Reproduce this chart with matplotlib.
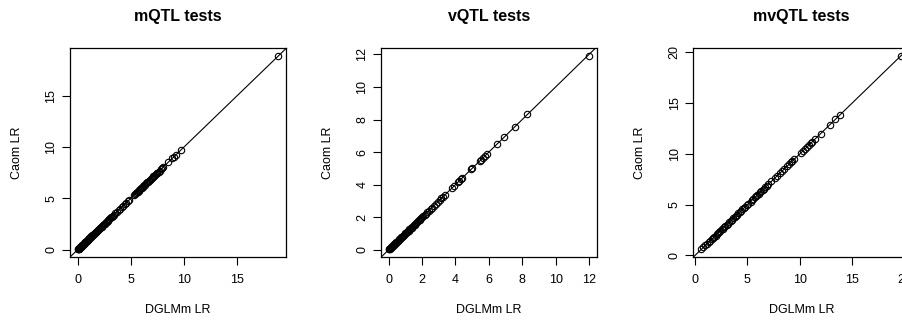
import matplotlib
matplotlib.use("Agg")
import matplotlib.pyplot as plt

plt.rcParams['font.family'] = ['Liberation Sans', 'DejaVu Sans']

titles = ["mQTL tests", "vQTL tests", "mvQTL tests"]
xlabel = "DGLMm LR"
ylabel = "Caom LR"

mqtl_x = [0.02, 0.05, 0.08, 0.11, 0.14, 0.17, 0.20, 0.23, 0.26, 0.30, 0.33, 0.36, 0.40, 0.43, 0.47,
          0.50, 0.54, 0.58, 0.61, 0.65, 0.69, 0.72, 0.76, 0.80, 0.84, 0.88, 0.92, 0.96, 1.00, 1.05,
          1.10, 1.14, 1.19, 1.24, 1.28, 1.33, 1.38, 1.43, 1.48, 1.53, 1.59, 1.64, 1.70, 1.75, 1.81,
          1.87, 1.93, 1.99, 2.05, 2.12, 2.18, 2.25, 2.32, 2.40, 2.47, 2.55, 2.63, 2.72, 2.80, 2.88,
          2.97, 3.05, 3.14, 3.22, 3.30, 3.42, 3.55, 3.70, 3.85, 3.98, 4.12, 4.25, 4.40, 4.55, 4.72,
          4.85, 5.30, 5.42, 5.50, 5.58, 5.65, 5.72, 5.80, 5.88, 5.95, 6.02, 6.10, 6.18, 6.25, 6.35,
          6.45, 6.55, 6.62, 6.70, 6.78, 6.85, 6.95, 7.05, 7.12, 7.20, 7.28, 7.35, 7.42, 7.50, 7.60,
          7.70, 7.80, 7.92, 8.05, 8.50, 8.90, 9.05, 9.20, 9.70, 18.85]
mqtl_y = [0.03, 0.04, 0.09, 0.10, 0.15, 0.16, 0.21, 0.22, 0.27, 0.29, 0.34, 0.35, 0.41, 0.42, 0.48,
          0.49, 0.55, 0.57, 0.62, 0.64, 0.70, 0.71, 0.77, 0.79, 0.85, 0.87, 0.93, 0.95, 1.01, 1.04,
          1.11, 1.13, 1.20, 1.23, 1.29, 1.32, 1.39, 1.42, 1.49, 1.52, 1.60, 1.63, 1.71, 1.74, 1.82,
          1.86, 1.94, 1.98, 2.06, 2.11, 2.19, 2.24, 2.33, 2.39, 2.48, 2.54, 2.64, 2.71, 2.81, 2.87,
          2.98, 3.04, 3.15, 3.21, 3.31, 3.41, 3.56, 3.69, 3.86, 3.97, 4.13, 4.24, 4.41, 4.54, 4.73,
          4.84, 5.31, 5.41, 5.51, 5.57, 5.66, 5.71, 5.81, 5.87, 5.96, 6.01, 6.11, 6.17, 6.26, 6.34,
          6.46, 6.54, 6.63, 6.69, 6.79, 6.84, 6.96, 7.04, 7.13, 7.19, 7.29, 7.34, 7.43, 7.49, 7.61,
          7.69, 7.81, 7.91, 8.06, 8.49, 8.91, 9.04, 9.21, 9.69, 18.90]

vqtl_x = [0.02, 0.04, 0.07, 0.09, 0.12, 0.15, 0.18, 0.21, 0.24, 0.27, 0.30, 0.33, 0.36, 0.40, 0.43,
          0.46, 0.50, 0.53, 0.57, 0.60, 0.64, 0.68, 0.71, 0.75, 0.79, 0.83, 0.87, 0.91, 0.95, 0.99,
          1.03, 1.07, 1.11, 1.15, 1.19, 1.24, 1.28, 1.32, 1.37, 1.41, 1.46, 1.50, 1.55, 1.60, 1.65,
          1.70, 1.75, 1.80, 1.85, 1.90, 1.96, 2.02, 2.08, 2.15, 2.22, 2.30, 2.40, 2.52, 2.60, 2.70,
          2.82, 2.95, 3.05, 3.15, 3.25, 3.35, 3.80, 3.90, 4.15, 4.22, 4.35, 4.42, 4.95, 5.02, 5.45,
          5.55, 5.65, 5.75, 5.90, 6.50, 6.90, 7.55, 8.30, 12.00]
vqtl_y = [0.03, 0.05, 0.06, 0.10, 0.11, 0.16, 0.17, 0.22, 0.23, 0.28, 0.29, 0.34, 0.35, 0.41, 0.42,
          0.47, 0.49, 0.54, 0.56, 0.61, 0.63, 0.69, 0.70, 0.76, 0.78, 0.84, 0.86, 0.92, 0.94, 1.00,
          1.02, 1.08, 1.10, 1.16, 1.18, 1.25, 1.27, 1.33, 1.36, 1.42, 1.45, 1.51, 1.54, 1.61, 1.64,
          1.71, 1.74, 1.81, 1.84, 1.91, 1.95, 2.03, 2.07, 2.16, 2.21, 2.31, 2.39, 2.53, 2.59, 2.71,
          2.81, 2.96, 3.04, 3.16, 3.24, 3.36, 3.79, 3.91, 4.14, 4.23, 4.34, 4.43, 4.96, 5.01, 5.46,
          5.54, 5.66, 5.74, 5.91, 6.49, 6.91, 7.54, 8.31, 11.92]

mvqtl_x = [0.60, 0.80, 1.00, 1.15, 1.30, 1.45, 1.60, 1.72, 1.85, 1.97, 2.08, 2.20, 2.32, 2.43, 2.55,
           2.66, 2.78, 2.90, 3.02, 3.15, 3.28, 3.40, 3.52, 3.65, 3.78, 3.90, 4.02, 4.15, 4.28, 4.40,
           4.52, 4.65, 4.80, 4.95, 5.10, 5.30, 5.45, 5.58, 5.70, 5.82, 5.95, 6.08, 6.20, 6.32, 6.45,
           6.58, 6.72, 6.85, 7.00, 7.30, 7.60, 7.85, 8.10, 8.30, 8.50, 8.80, 9.00, 9.20, 9.30, 9.50,
           10.10, 10.30, 10.50, 10.70, 10.90, 11.05, 11.20, 11.50, 12.00, 12.90, 13.40, 13.80, 19.70]
mvqtl_y = [0.61, 0.79, 1.01, 1.14, 1.31, 1.44, 1.61, 1.71, 1.86, 1.96, 2.09, 2.19, 2.33, 2.42, 2.56,
           2.65, 2.79, 2.89, 3.03, 3.14, 3.29, 3.39, 3.53, 3.64, 3.79, 3.89, 4.03, 4.14, 4.29, 4.39,
           4.53, 4.64, 4.81, 4.94, 5.11, 5.29, 5.46, 5.57, 5.71, 5.81, 5.96, 6.07, 6.21, 6.31, 6.46,
           6.57, 6.73, 6.84, 7.01, 7.29, 7.61, 7.84, 8.11, 8.29, 8.51, 8.79, 9.01, 9.19, 9.31, 9.49,
           10.11, 10.29, 10.51, 10.69, 10.91, 11.04, 11.21, 11.49, 12.01, 12.89, 13.41, 13.79, 19.67]

xs = [mqtl_x, vqtl_x, mvqtl_x]
ys = [mqtl_y, vqtl_y, mvqtl_y]
xticks = [[0, 5, 10, 15], [0, 2, 4, 6, 8, 10, 12], [0, 5, 10, 15, 20]]
yticks = [[0, 5, 10, 15], [0, 2, 4, 6, 8, 10, 12], [0, 5, 10, 15, 20]]

W, H = 902, 322
fig = plt.figure(figsize=(W / 100, H / 100), dpi=100)
lefts = [70, 381, 693.3]
box_w = 216
box_top, box_bot = 48, 257

for i in range(3):
    ax = fig.add_axes([lefts[i] / W, 1 - box_bot / H, box_w / W, (box_bot - box_top) / H])
    x, y = xs[i], ys[i]
    ax.plot(x, y, linestyle='none', marker='o', ms=4.6, mfc='none', mec='black', mew=0.8)
    ax.axline((0, 0), slope=1, color='black', lw=0.8)
    xr = max(x) - min(x)
    yr = max(y) - min(y)
    ax.set_xlim(min(x) - 0.04 * xr, max(x) + 0.04 * xr)
    ax.set_ylim(min(y) - 0.04 * yr, max(y) + 0.04 * yr)
    ax.set_xticks(xticks[i])
    ax.set_yticks(yticks[i])
    ax.set_yticklabels([str(t) for t in yticks[i]], rotation=90, va='center')
    ax.tick_params(direction='out', length=6, width=0.8, labelsize=9, color='black')
    ax.tick_params(axis='x', pad=6.5)
    ax.tick_params(axis='y', pad=3)
    for s in ax.spines.values():
        s.set_linewidth(0.9)
    ax.set_xlabel(xlabel, fontsize=9)
    ax.set_ylabel(ylabel, fontsize=9)
    ax.xaxis.set_label_coords(0.5, -0.255)
    ax.yaxis.set_label_coords(-0.245, 0.5)
    ax.xaxis.label.set_va('center')
    ax.yaxis.label.set_va('center')
    ax.text(0.5, 1.15, titles[i], transform=ax.transAxes, ha='center', va='center',
            fontsize=11.5, fontweight='bold')

fig.savefig("out.png", dpi=100)
